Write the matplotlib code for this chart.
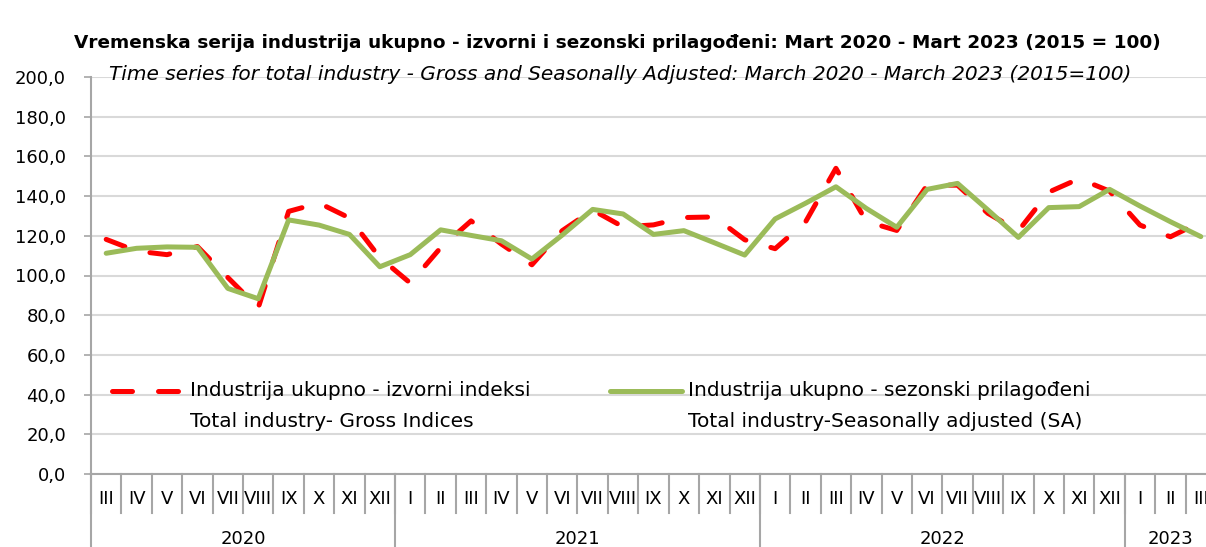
import matplotlib
matplotlib.use("Agg")
import matplotlib.pyplot as plt
import numpy as np

# ---- data ----
months = ["III", "IV", "V", "VI", "VII", "VIII", "IX", "X", "XI", "XII",
          "I", "II", "III", "IV", "V", "VI", "VII", "VIII", "IX", "X", "XI", "XII",
          "I", "II", "III", "IV", "V", "VI", "VII", "VIII", "IX", "X", "XI", "XII",
          "I", "II", "III"]
years = ["2020", "2021", "2022", "2023"]
year_counts = [10, 12, 12, 3]

gross = [118.2, 112.3, 110.5, 114.6, 99.0, 83.7, 132.3, 136.5, 129.0, 109.0,
         96.2, 114.0, 127.5, 115.8, 105.4, 122.6, 133.0, 124.5, 125.5, 129.2, 129.5, 118.0,
         113.5, 127.0, 154.0, 127.2, 122.7, 145.5, 145.5, 131.3, 122.5, 142.0, 148.8, 142.5,
         125.4, 119.5, 127.0]
sa = [111.2, 113.7, 114.4, 114.2, 93.5, 88.3, 128.0, 125.4, 120.7, 104.4,
      110.5, 123.0, 120.2, 117.5, 108.3, 120.4, 133.3, 131.0, 120.7, 122.6, 116.5, 110.3,
      128.5, 136.4, 144.7, 133.8, 124.3, 143.4, 146.4, 133.0, 119.2, 134.2, 134.7, 143.4,
      135.0, 127.1, 119.6]

title = "Vremenska serija industrija ukupno - izvorni i sezonski prilagođeni: Mart 2020 - Mart 2023 (2015 = 100)"
subtitle = "Time series for total industry - Gross and Seasonally Adjusted: March 2020 - March 2023 (2015=100)"
leg_gross = ["Industrija ukupno - izvorni indeksi", "Total industry- Gross Indices"]
leg_sa = ["Industrija ukupno - sezonski prilagođeni", "Total industry-Seasonally adjusted (SA)"]

# ---- style ----
plt.rcParams['font.family'] = ['DejaVu Sans']
RED = "#FF0000"
GREEN = "#9BBB59"
GRID = "#D9D9D9"
AXC = "#A6A6A6"

fig = plt.figure(figsize=(12.06, 5.47), dpi=100)
ax = fig.add_axes([91/1206, 73/547, 1125/1206, 397/547])

x = np.arange(len(months))
ax.plot(x, gross, color=RED, lw=3.6, linestyle=(0, (4, 5.2)),
        dash_capstyle='round', solid_joinstyle='round', zorder=3)
ax.plot(x, sa, color=GREEN, lw=3.6, solid_capstyle='round',
        solid_joinstyle='round', zorder=4)

ax.set_xlim(-0.5, len(months) - 0.5)
ax.set_ylim(0, 200)
ax.set_yticks(np.arange(0, 201, 20))
ax.set_yticklabels([f"{v:.1f}".replace(".", ",") for v in np.arange(0, 201, 20)],
                   fontsize=13)
ax.yaxis.grid(True, color=GRID, lw=1.5)
ax.set_axisbelow(True)
ax.tick_params(axis='y', length=5, width=1.2, color=AXC, pad=13)
ax.set_xticks([])
for s in ["top", "right"]:
    ax.spines[s].set_visible(False)
ax.spines["left"].set_color(AXC)
ax.spines["left"].set_linewidth(1.5)
ax.spines["bottom"].set_color(AXC)
ax.spines["bottom"].set_linewidth(1.5)

# multi-level category axis
tr = ax.get_xaxis_transform()
for i, m in enumerate(months):
    ax.text(i, -0.064, m, transform=tr, ha='center', va='center', fontsize=13,
            clip_on=False)
for k in range(len(months) + 1):
    ax.plot([k - 0.5, k - 0.5], [0, -0.098], transform=tr, color=AXC, lw=1.5,
            clip_on=False)
start = 0
bounds = [0]
for yr, n in zip(years, year_counts):
    ax.text(start + n / 2 - 0.5, -0.163, yr, transform=tr, ha='center', va='center',
            fontsize=13, clip_on=False)
    start += n
    bounds.append(start)
for b in bounds:
    ax.plot([b - 0.5, b - 0.5], [0, -0.25], transform=tr, color=AXC, lw=1.5,
            clip_on=False)

# legend (manual)
ta = ax.transAxes
ax.plot([0.0187, 0.0818], [0.210, 0.210], transform=ta, color=RED, lw=3.6,
        linestyle=(0, (4, 5.2)), dash_capstyle='round', clip_on=False, zorder=5)
ax.text(0.088, 0.210, leg_gross[0], transform=ta, ha='left', va='center', fontsize=14.5)
ax.text(0.088, 0.132, leg_gross[1], transform=ta, ha='left', va='center', fontsize=14.5)
ax.plot([0.4613, 0.5253], [0.210, 0.210], transform=ta, color=GREEN, lw=3.6,
        solid_capstyle='round', clip_on=False, zorder=5)
ax.text(0.5307, 0.210, leg_sa[0], transform=ta, ha='left', va='center', fontsize=14.5)
ax.text(0.5307, 0.132, leg_sa[1], transform=ta, ha='left', va='center', fontsize=14.5)

fig.text(617/1206, 1 - 43/547, title, ha='center', va='center', fontsize=13.3,
         fontweight='bold')
fig.text(620/1206, 1 - 74/547, subtitle, ha='center', va='center', fontsize=14.5,
         fontstyle='italic')

fig.savefig("out.png", dpi=100)
